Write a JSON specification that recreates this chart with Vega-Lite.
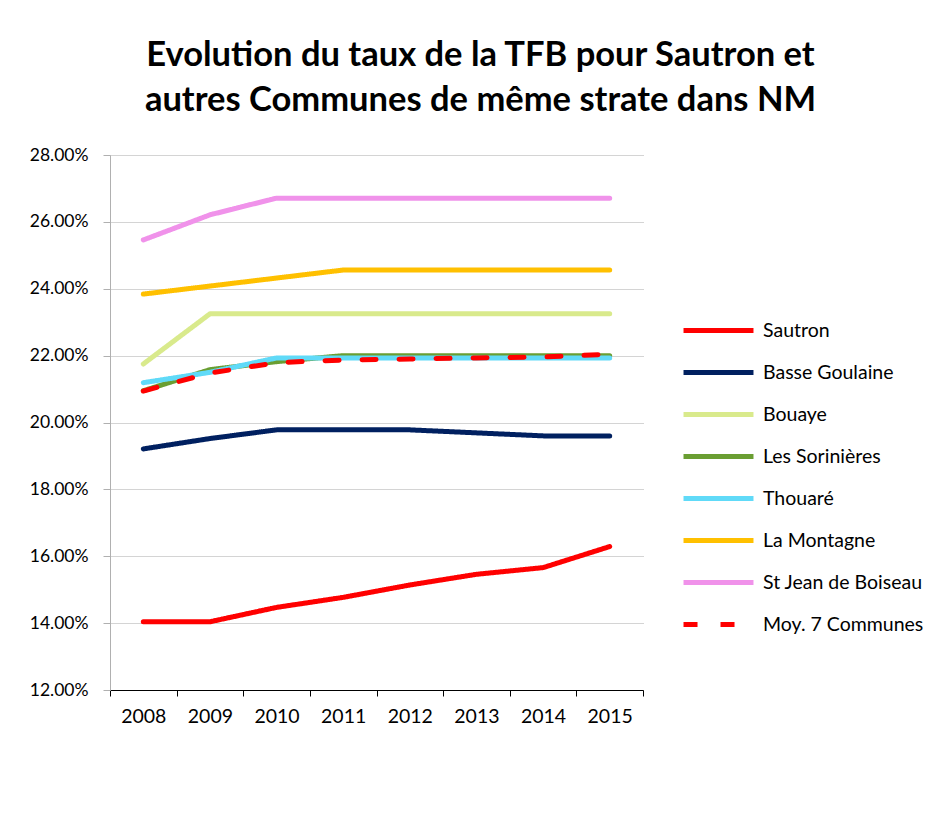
{
  "$schema": "https://vega.github.io/schema/vega-lite/v6.json",
  "autosize": {"type": "none"},
  "width": 533,
  "height": 535,
  "padding": {"left": 110, "top": 155, "right": 295, "bottom": 134},
  "background": "white",
  "title": {
    "text": ["Evolution du taux de la TFB pour Sautron et", "autres Communes de même strate dans NM"],
    "font": "Lato",
    "fontSize": 34.5,
    "fontWeight": "bold",
    "color": "black",
    "anchor": "middle",
    "frame": "group",
    "dx": 104,
    "lineHeight": 45,
    "offset": 28
  },
  "config": {
    "view": {"stroke": null},
    "font": "Lato"
  },
  "data": {
    "values": [
      {"annee": "2008", "serie": "Sautron", "taux": 0.1404},
      {"annee": "2009", "serie": "Sautron", "taux": 0.1404},
      {"annee": "2010", "serie": "Sautron", "taux": 0.1447},
      {"annee": "2011", "serie": "Sautron", "taux": 0.1477},
      {"annee": "2012", "serie": "Sautron", "taux": 0.1514},
      {"annee": "2013", "serie": "Sautron", "taux": 0.1546},
      {"annee": "2014", "serie": "Sautron", "taux": 0.1566},
      {"annee": "2015", "serie": "Sautron", "taux": 0.1629},
      {"annee": "2008", "serie": "Basse Goulaine", "taux": 0.1921},
      {"annee": "2009", "serie": "Basse Goulaine", "taux": 0.1952},
      {"annee": "2010", "serie": "Basse Goulaine", "taux": 0.1978},
      {"annee": "2011", "serie": "Basse Goulaine", "taux": 0.1978},
      {"annee": "2012", "serie": "Basse Goulaine", "taux": 0.1978},
      {"annee": "2013", "serie": "Basse Goulaine", "taux": 0.1969},
      {"annee": "2014", "serie": "Basse Goulaine", "taux": 0.1960},
      {"annee": "2015", "serie": "Basse Goulaine", "taux": 0.1960},
      {"annee": "2008", "serie": "Bouaye", "taux": 0.2175},
      {"annee": "2009", "serie": "Bouaye", "taux": 0.2325},
      {"annee": "2010", "serie": "Bouaye", "taux": 0.2325},
      {"annee": "2011", "serie": "Bouaye", "taux": 0.2325},
      {"annee": "2012", "serie": "Bouaye", "taux": 0.2325},
      {"annee": "2013", "serie": "Bouaye", "taux": 0.2325},
      {"annee": "2014", "serie": "Bouaye", "taux": 0.2325},
      {"annee": "2015", "serie": "Bouaye", "taux": 0.2325},
      {"annee": "2008", "serie": "Les Sorinières", "taux": 0.2095},
      {"annee": "2009", "serie": "Les Sorinières", "taux": 0.2158},
      {"annee": "2010", "serie": "Les Sorinières", "taux": 0.2182},
      {"annee": "2011", "serie": "Les Sorinières", "taux": 0.2200},
      {"annee": "2012", "serie": "Les Sorinières", "taux": 0.2200},
      {"annee": "2013", "serie": "Les Sorinières", "taux": 0.2200},
      {"annee": "2014", "serie": "Les Sorinières", "taux": 0.2200},
      {"annee": "2015", "serie": "Les Sorinières", "taux": 0.2200},
      {"annee": "2008", "serie": "Thouaré", "taux": 0.2119},
      {"annee": "2009", "serie": "Thouaré", "taux": 0.2150},
      {"annee": "2010", "serie": "Thouaré", "taux": 0.2193},
      {"annee": "2011", "serie": "Thouaré", "taux": 0.2193},
      {"annee": "2012", "serie": "Thouaré", "taux": 0.2193},
      {"annee": "2013", "serie": "Thouaré", "taux": 0.2193},
      {"annee": "2014", "serie": "Thouaré", "taux": 0.2193},
      {"annee": "2015", "serie": "Thouaré", "taux": 0.2193},
      {"annee": "2008", "serie": "La Montagne", "taux": 0.2384},
      {"annee": "2009", "serie": "La Montagne", "taux": 0.2408},
      {"annee": "2010", "serie": "La Montagne", "taux": 0.2432},
      {"annee": "2011", "serie": "La Montagne", "taux": 0.2456},
      {"annee": "2012", "serie": "La Montagne", "taux": 0.2456},
      {"annee": "2013", "serie": "La Montagne", "taux": 0.2456},
      {"annee": "2014", "serie": "La Montagne", "taux": 0.2456},
      {"annee": "2015", "serie": "La Montagne", "taux": 0.2456},
      {"annee": "2008", "serie": "St Jean de Boiseau", "taux": 0.2546},
      {"annee": "2009", "serie": "St Jean de Boiseau", "taux": 0.2621},
      {"annee": "2010", "serie": "St Jean de Boiseau", "taux": 0.2671},
      {"annee": "2011", "serie": "St Jean de Boiseau", "taux": 0.2671},
      {"annee": "2012", "serie": "St Jean de Boiseau", "taux": 0.2671},
      {"annee": "2013", "serie": "St Jean de Boiseau", "taux": 0.2671},
      {"annee": "2014", "serie": "St Jean de Boiseau", "taux": 0.2671},
      {"annee": "2015", "serie": "St Jean de Boiseau", "taux": 0.2671},
      {"annee": "2008", "serie": "Moy. 7 Communes", "taux": 0.2094},
      {"annee": "2009", "serie": "Moy. 7 Communes", "taux": 0.2148},
      {"annee": "2010", "serie": "Moy. 7 Communes", "taux": 0.2179},
      {"annee": "2011", "serie": "Moy. 7 Communes", "taux": 0.2187},
      {"annee": "2012", "serie": "Moy. 7 Communes", "taux": 0.2190},
      {"annee": "2013", "serie": "Moy. 7 Communes", "taux": 0.2193},
      {"annee": "2014", "serie": "Moy. 7 Communes", "taux": 0.2196},
      {"annee": "2015", "serie": "Moy. 7 Communes", "taux": 0.2204}
    ]
  },
  "mark": {"type": "line", "strokeWidth": 5, "strokeCap": "round", "strokeJoin": "round"},
  "encoding": {
    "x": {
      "field": "annee",
      "type": "ordinal",
      "scale": {"type": "band", "paddingInner": 0, "paddingOuter": 0},
      "axis": {
        "title": null,
        "labelAngle": 0,
        "labelFont": "Lato",
        "labelFontSize": 19.5,
        "labelColor": "black",
        "labelPadding": 11,
        "domainColor": "black",
        "domainWidth": 1,
        "tickColor": "black",
        "tickWidth": 1,
        "tickSize": 6,
        "tickBand": "extent",
        "grid": false
      }
    },
    "y": {
      "field": "taux",
      "type": "quantitative",
      "scale": {"domain": [0.12, 0.28], "nice": false, "zero": false},
      "axis": {
        "title": null,
        "format": ".2%",
        "values": [0.12, 0.14, 0.16, 0.18, 0.2, 0.22, 0.24, 0.26, 0.28],
        "labelFont": "Lato",
        "labelFontSize": 17.5,
        "labelColor": "black",
        "labelPadding": 15,
        "domainColor": "#B0B0B0",
        "tickColor": "#B0B0B0",
        "tickSize": 7,
        "gridColor": "#A8A8A8",
        "gridDash": [1, 1],
        "gridWidth": 1
      }
    },
    "color": {
      "field": "serie",
      "type": "nominal",
      "sort": null,
      "scale": {
        "domain": ["Sautron", "Basse Goulaine", "Bouaye", "Les Sorinières", "Thouaré", "La Montagne", "St Jean de Boiseau", "Moy. 7 Communes"],
        "range": ["#FF0000", "#002060", "#D9EA8C", "#6A9E32", "#60DAF8", "#FFC000", "#F092EA", "#FF0000"]
      },
      "legend": {
        "title": null,
        "orient": "none",
        "legendX": 594,
        "legendY": 161,
        "symbolType": "M-3,0H3",
        "symbolSize": 544,
        "symbolStrokeWidth": 5,
        "labelFont": "Lato",
        "labelFontSize": 19.5,
        "labelColor": "black",
        "labelOffset": 30,
        "labelLimit": 250,
        "rowPadding": 17
      }
    },
    "strokeDash": {
      "field": "serie",
      "type": "nominal",
      "sort": null,
      "scale": {
        "domain": ["Sautron", "Basse Goulaine", "Bouaye", "Les Sorinières", "Thouaré", "La Montagne", "St Jean de Boiseau", "Moy. 7 Communes"],
        "range": [[1, 0], [1, 0], [1, 0], [1, 0], [1, 0], [1, 0], [1, 0], [14, 23]]
      },
      "legend": {
        "title": null,
        "orient": "none",
        "legendX": 594,
        "legendY": 161,
        "symbolType": "M-3,0H3",
        "symbolSize": 544,
        "symbolStrokeWidth": 5,
        "labelFont": "Lato",
        "labelFontSize": 19.5,
        "labelColor": "black",
        "labelOffset": 30,
        "labelLimit": 250,
        "rowPadding": 17
      }
    }
  }
}
